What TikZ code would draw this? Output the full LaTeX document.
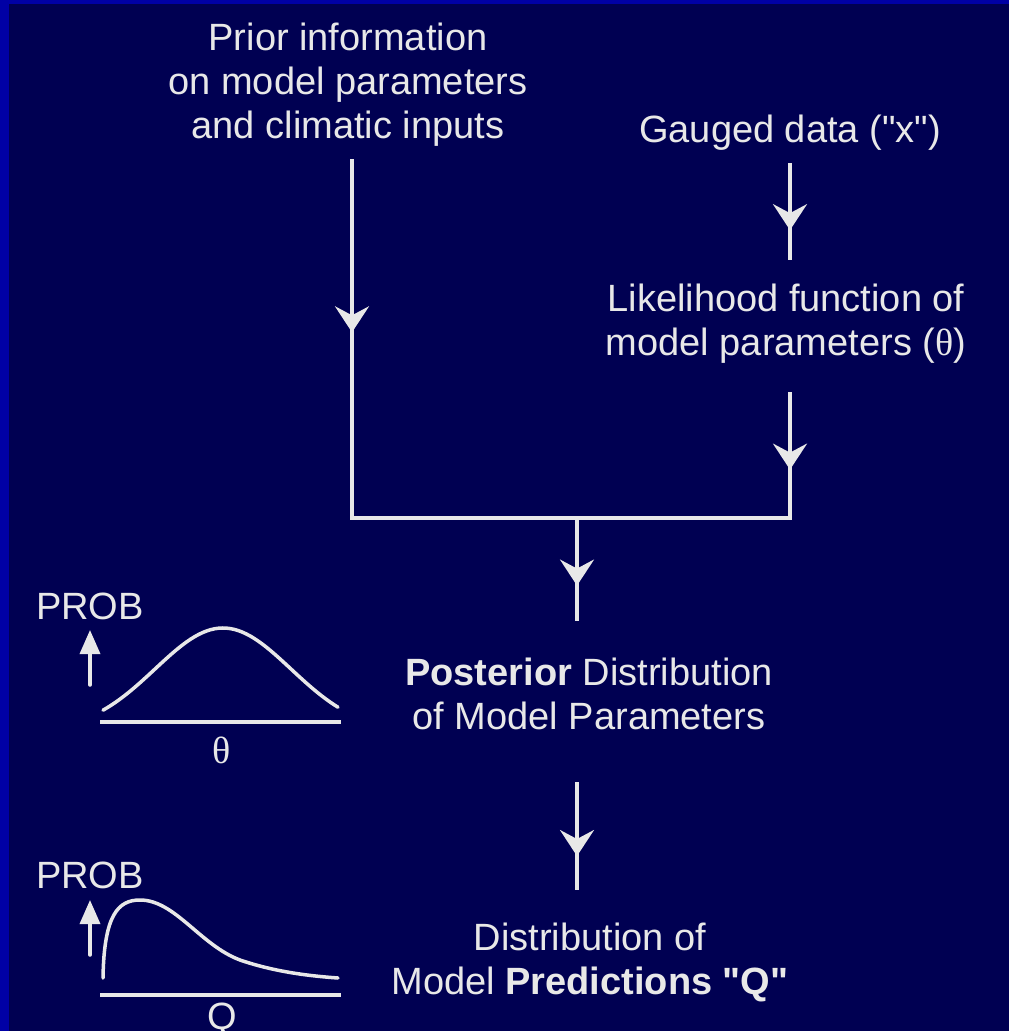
\documentclass[tikz,border=0pt]{standalone}
\usepackage{fontspec}
\setmainfont{Liberation Sans}
\newfontfamily\greekfont{Liberation Serif}
\usepackage{xcolor}
\usetikzlibrary{arrows.meta, decorations.markings, positioning, calc}
\definecolor{slidebg}{RGB}{0,0,82}
\definecolor{slideedge}{RGB}{0,0,165}
\definecolor{chalk}{RGB}{232,232,232}
\newcommand{\dq}{\textquotedbl}

\begin{document}
\begin{tikzpicture}[x=1pt, y=-1pt, >=Stealth,
    txt/.style={text=chalk, align=center, font=\fontsize{38}{44}\selectfont, inner sep=0pt},
    wire/.style={chalk, line width=3.5pt, line cap=rect},
    flow/.style={wire, postaction={decorate},
      decoration={markings, mark=at position #1 with {\arrow{Stealth[length=26pt, width=34pt, inset=9pt]}}}},
    curve/.style={chalk, line width=3.5pt, line cap=round}]
      % Slide background and edges
      \useasboundingbox (0,0) rectangle (1009,1031);
      \fill[slidebg] (0,0) rectangle (1009,1031);
      \fill[slideedge] (0,0) rectangle (9,1031);
      \fill[slideedge] (0,0) rectangle (1009,4);

      % Inputs
      \node[txt] (prior) at (348,85) {Prior information\\on model parameters\\and climatic inputs};
      \node[txt] (gauged) at (790,133) {Gauged data (\dq x\dq)};
      \node[txt] (like) at (786,324) {Likelihood function of\\model parameters ({\greekfont θ})};

      % Junction
      \coordinate (jl) at (352,518);
      \coordinate (jr) at (790,518);
      \coordinate (jc) at (577,518);

      % Outputs
      \node[txt] (post) at (589,694) {\textbf{Posterior} Distribution\\of Model Parameters};
      \node[txt] (pred) at (590,962) {Distribution of\\Model \textbf{Predictions \dq Q\dq}};

      % Flow lines
      \draw[flow=0.48] ([yshift=-14pt]prior.south -| jl) -- (jl);
      \draw[flow=0.7] ([yshift=-14pt]gauged.south -| jr) -- ([yshift=26pt]like.north -| jr);
      \draw[flow=0.61] ([yshift=-30pt]like.south -| jr) -- (jr);
      \draw[wire] (jl) -- (jr);
      \draw[flow=0.67] (jc) -- ([yshift=39pt]post.north -| jc);
      \draw[flow=0.69] ([yshift=-54pt]post.south -| jc) -- ([yshift=34pt]pred.north -| jc);

      % Posterior sketch
      \node[txt] (probA) at (90,606) {PROB};
      \draw[curve, -{Triangle[length=24pt, width=20pt]}] (90,685) -- (90,630);
      \draw[curve, line cap=butt] (100,722) -- (341,722);
      \draw[curve] plot[domain=103:338, samples=60] (\x, {732-104*exp(-1*pow((\x-223)/96,2))});
      \node[txt] (thetalab) at (222,750) {\greekfont θ};

      % Prediction sketch
      \node[txt] (probB) at (90,875) {PROB};
      \draw[curve, -{Triangle[length=24pt, width=20pt]}] (90,955) -- (90,900);
      \draw[curve, line cap=butt] (100,995) -- (341,995);
      \draw[curve] (103,978) .. controls (104,915) and (118,900) .. (140,900)
        .. controls (175,900) and (200,945) .. (240,960)
        .. controls (275,972) and (310,976) .. (338,978);
      \node[txt] (qlab) at (222,1020) {Q};
\end{tikzpicture}
\end{document}
